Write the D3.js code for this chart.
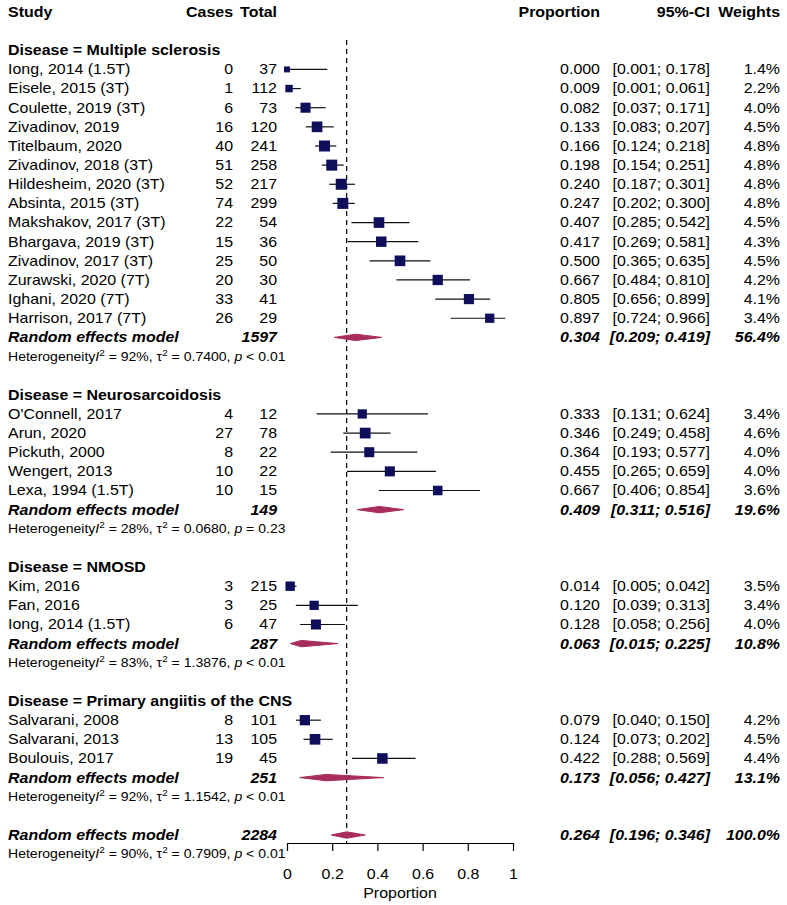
<!DOCTYPE html>
<html><head><meta charset="utf-8">
<script src="https://cdn.jsdelivr.net/npm/d3@7"></script>
<style>
body{margin:0;background:#fff}
text{font-family:"Liberation Sans",Arial,sans-serif;fill:#000}
</style>
</head><body><svg id="c" width="787" height="905"></svg>
<script>
// ---------- DATA ----------
const groupNames = ["Multiple sclerosis","Neurosarcoidosis","NMOSD","Primary angiitis of the CNS"];
const studyNames = ["Iong, 2014 (1.5T)","Eisele, 2015 (3T)","Coulette, 2019 (3T)","Zivadinov, 2019","Titelbaum, 2020","Zivadinov, 2018 (3T)","Hildesheim, 2020 (3T)","Absinta, 2015 (3T)","Makshakov, 2017 (3T)","Bhargava, 2019 (3T)","Zivadinov, 2017 (3T)","Zurawski, 2020 (7T)","Ighani, 2020 (7T)","Harrison, 2017 (7T)",
  "O'Connell, 2017","Arun, 2020","Pickuth, 2000","Wengert, 2013","Lexa, 1994 (1.5T)",
  "Kim, 2016","Fan, 2016","Iong, 2014 (1.5T)",
  "Salvarani, 2008","Salvarani, 2013","Boulouis, 2017"];
const studyGroup = [0,0,0,0,0,0,0,0,0,0,0,0,0,0, 1,1,1,1,1, 2,2,2, 3,3,3];
const cases  = [0,1,6,16,40,51,52,74,22,15,25,20,33,26, 4,27,8,10,10, 3,3,6, 8,13,19];
const totals = [37,112,73,120,241,258,217,299,54,36,50,30,41,29, 12,78,22,22,15, 215,25,47, 101,105,45];
const proportion = [0.000,0.009,0.082,0.133,0.166,0.198,0.240,0.247,0.407,0.417,0.500,0.667,0.805,0.897, 0.333,0.346,0.364,0.455,0.667, 0.014,0.120,0.128, 0.079,0.124,0.422];
const ciLow  = [0.001,0.001,0.037,0.083,0.124,0.154,0.187,0.202,0.285,0.269,0.365,0.484,0.656,0.724, 0.131,0.249,0.193,0.265,0.406, 0.005,0.039,0.058, 0.040,0.073,0.288];
const ciHigh = [0.178,0.061,0.171,0.207,0.218,0.251,0.301,0.300,0.542,0.581,0.635,0.810,0.899,0.966, 0.624,0.458,0.577,0.659,0.854, 0.042,0.313,0.256, 0.150,0.202,0.569];
const weights = [1.4,2.2,4.0,4.5,4.8,4.8,4.8,4.8,4.5,4.3,4.5,4.2,4.1,3.4, 3.4,4.6,4.0,4.0,3.6, 3.5,3.4,4.0, 4.2,4.5,4.4];
const groupTotals = [1597,149,287,251];
const groupEst  = [0.304,0.409,0.063,0.173];
const groupLow  = [0.209,0.311,0.015,0.056];
const groupHigh = [0.419,0.516,0.225,0.427];
const groupWeight = [56.4,19.6,10.8,13.1];
const groupI2   = ["92%","28%","83%","92%"];
const groupTau2 = ["0.7400","0.0680","1.3876","1.1542"];
const groupP    = ["< 0.01","= 0.23","< 0.01","< 0.01"];
const overallTotal = 2284, overallEst = 0.264, overallLow = 0.196, overallHigh = 0.346, overallWeight = 100.0;
const overallI2 = "90%", overallTau2 = "0.7909", overallP = "< 0.01";
const tickValues = [0,0.2,0.4,0.6,0.8,1];
const tickLabels = ["0","0.2","0.4","0.6","0.8","1"];

// ---------- DRAW ----------
const svg = d3.select("#c");
const x = d3.scaleLinear().domain([0,1]).range([287,513]);
const rowY = r => 12 + r*19.14;
const SX = 1.14, FS = 14;
const f3 = d3.format(".3f"), f1 = d3.format(".1f");
const col = {study:8, cases:233, total:277, prop:600, ci:710, w:780};
const sqColor = "#0e0e5a", diaColor = "#a82c5c";

function txt(xp, y, s, o={}) {
  return svg.append("text")
    .attr("transform", `translate(${xp},${y}) scale(${o.sx||SX},1)`)
    .attr("dy","0.35em")
    .attr("font-size", o.fs||FS)
    .attr("text-anchor", o.anchor||"start")
    .attr("font-weight", o.bold ? "bold" : null)
    .attr("font-style", o.italic ? "italic" : null)
    .text(s);
}
function het(y, i2, tau, p) {
  const t = svg.append("text")
    .attr("transform", `translate(${col.study},${y}) scale(1.17,1)`)
    .attr("dy","0.35em").attr("font-size",12);
  t.append("tspan").text("Heterogeneity");
  t.append("tspan").attr("font-style","italic").text("I");
  t.append("tspan").attr("font-size",8.5).attr("dy",-5).text("2");
  t.append("tspan").attr("dy",5).text(` = ${i2}, \u03c4`);
  t.append("tspan").attr("font-size",8.5).attr("dy",-5).text("2");
  t.append("tspan").attr("dy",5).text(` = ${tau}, `);
  t.append("tspan").attr("font-style","italic").text("p");
  t.append("tspan").text(` ${p}`);
}
function diamond(y, est, lo, hi) {
  const h = 3.2;
  svg.append("polygon")
    .attr("points", [[x(lo),y],[x(est),y-h],[x(hi),y],[x(est),y+h]].map(p=>p.join(",")).join(" "))
    .attr("fill", diaColor).attr("stroke", diaColor).attr("stroke-width",1);
}

// header
txt(col.study, rowY(0), "Study", {bold:true});
txt(col.cases, rowY(0), "Cases", {bold:true, anchor:"end"});
txt(col.total, rowY(0), "Total", {bold:true, anchor:"end"});
txt(col.prop, rowY(0), "Proportion", {bold:true, anchor:"end"});
txt(col.ci, rowY(0), "95%-CI", {bold:true, anchor:"end"});
txt(col.w, rowY(0), "Weights", {bold:true, anchor:"end"});

// reference dashed line
svg.append("line").attr("x1",x(overallEst)).attr("x2",x(overallEst))
  .attr("y1",40).attr("y2",843)
  .attr("stroke","#000").attr("stroke-width",1.2).attr("stroke-dasharray","5,4");

let row = 2;
groupNames.forEach((g, gi) => {
  txt(col.study, rowY(row), "Disease = " + g, {bold:true});
  row++;
  studyNames.forEach((s, i) => {
    if (studyGroup[i] !== gi) return;
    const y = rowY(row);
    txt(col.study, y, s);
    txt(col.cases, y, String(cases[i]), {anchor:"end"});
    txt(col.total, y, String(totals[i]), {anchor:"end"});
    txt(col.prop, y, f3(proportion[i]), {anchor:"end"});
    txt(col.ci, y, `[${f3(ciLow[i])}; ${f3(ciHigh[i])}]`, {anchor:"end"});
    txt(col.w, y, f1(weights[i]) + "%", {anchor:"end"});
    svg.append("line").attr("x1",x(ciLow[i])).attr("x2",x(ciHigh[i]))
      .attr("y1",y).attr("y2",y).attr("stroke","#111").attr("stroke-width",1.2);
    const sz = 11*Math.sqrt(weights[i]/4.8);
    svg.append("rect").attr("x",x(proportion[i])-sz/2).attr("y",y-sz/2)
      .attr("width",sz).attr("height",sz).attr("fill",sqColor);
    row++;
  });
  const y = rowY(row);
  txt(col.study, y, "Random effects model", {bold:true, italic:true});
  txt(col.total, y, String(groupTotals[gi]), {bold:true, italic:true, anchor:"end"});
  txt(col.prop, y, f3(groupEst[gi]), {bold:true, italic:true, anchor:"end"});
  txt(col.ci, y, `[${f3(groupLow[gi])}; ${f3(groupHigh[gi])}]`, {bold:true, italic:true, anchor:"end"});
  txt(col.w, y, f1(groupWeight[gi]) + "%", {bold:true, italic:true, anchor:"end"});
  diamond(y, groupEst[gi], groupLow[gi], groupHigh[gi]);
  row++;
  het(rowY(row), groupI2[gi], groupTau2[gi], groupP[gi]);
  row += 2;
});

// overall
{
  const y = rowY(row);
  txt(col.study, y, "Random effects model", {bold:true, italic:true});
  txt(col.total, y, String(overallTotal), {bold:true, italic:true, anchor:"end"});
  txt(col.prop, y, f3(overallEst), {bold:true, italic:true, anchor:"end"});
  txt(col.ci, y, `[${f3(overallLow)}; ${f3(overallHigh)}]`, {bold:true, italic:true, anchor:"end"});
  txt(col.w, y, f1(overallWeight) + "%", {bold:true, italic:true, anchor:"end"});
  diamond(y, overallEst, overallLow, overallHigh);
  row++;
  het(rowY(row), overallI2, overallTau2, overallP);
}

// axis
const axis = d3.axisBottom(x).tickValues(tickValues)
  .tickFormat((d,i)=>tickLabels[i]).tickSize(8).tickSizeOuter(0).tickPadding(18);
const ag = svg.append("g").attr("transform","translate(0,843)").call(axis);
ag.select(".domain").attr("stroke","#000").attr("stroke-width",1.2);
ag.selectAll(".tick line").attr("stroke","#000").attr("stroke-width",1.2);
ag.selectAll(".tick text").attr("font-size",FS).attr("font-family","Liberation Sans, Arial, sans-serif")
  .attr("transform",`scale(${SX},1)`).attr("fill","#000");
txt(400, 893, "Proportion", {anchor:"middle"});
</script>
</body></html>
